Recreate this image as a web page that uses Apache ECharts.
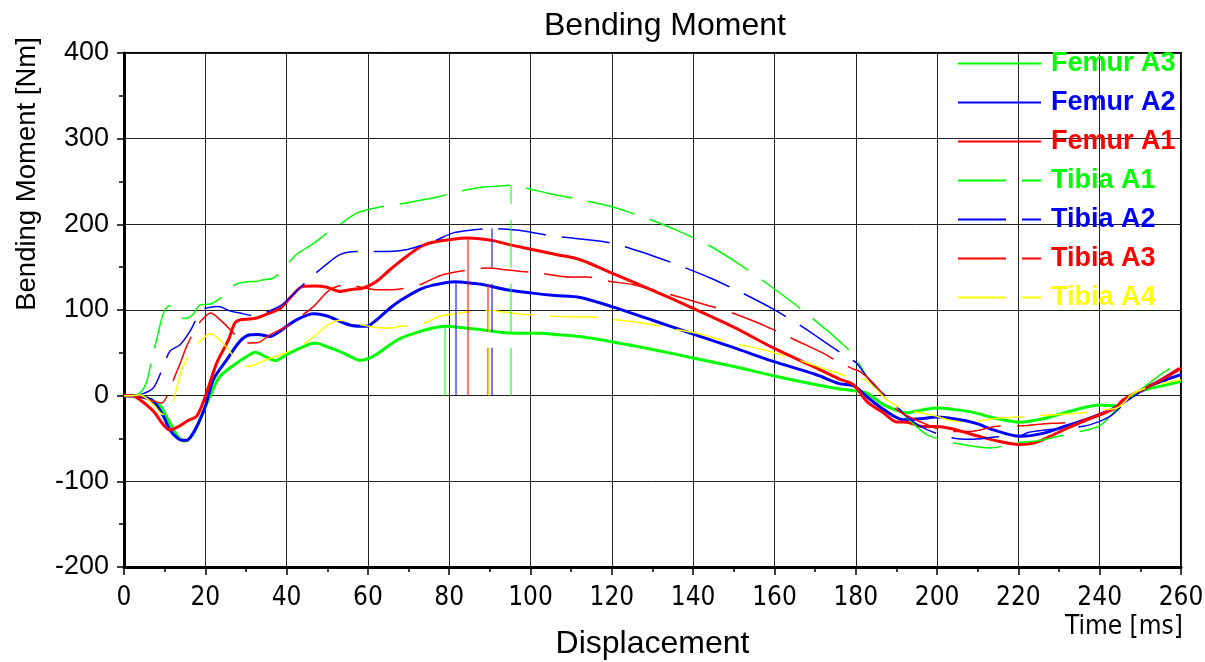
<!DOCTYPE html>
<html><head><meta charset="utf-8">
<script src="https://cdn.jsdelivr.net/npm/echarts@6/dist/echarts.min.js"></script>
<style>html,body{margin:0;padding:0;background:#fff}#c{width:1205px;height:662px}</style>
</head><body><div id="c"></div>
<script>
// ---------- DATA ----------
const seriesNames = ['Femur A3', 'Femur A2', 'Femur A1', 'Tibia A1', 'Tibia A2', 'Tibia A3', 'Tibia A4'];
const seriesColors = ['#00ff00', '#0000ff', '#ff0000', '#00ff00', '#0000ff', '#ff0000', '#ffff00'];
const xTickValues = [0, 20, 40, 60, 80, 100, 120, 140, 160, 180, 200, 220, 240, 260];
const yTickValues = [-200, -100, 0, 100, 200, 300, 400];

const femurA3_t = [0,3,5,7,9,11.3,13.3,15,17,18.7,21.2,23.6,27.7,31,32.2,35,37.1,40,44,47,50,53,56,58,60.5,63,65.4,68,72.8,76,79,84,88,92.5,97,102.3,107,112,120,130,140,150,159.7,170,176,179.4,182.7,186.8,190,192.5,196.6,200,204,208.9,214,220.4,226,232,236,240,244,246,249,252,256,260];
const femurA3_v = [0,0,-2,-5,-12.5,-32,-48,-53,-45,-28,0,22.5,38,48,50.6,45,41,48,57,61.5,57,51.7,45,41,44,51,59.5,67,75,79,81,79,77,74,73,73,71,69,63,54,44,34,23.3,13,7.8,6,3,-10.5,-17,-20,-16.5,-14.4,-16,-19.5,-26,-31,-27,-19,-14,-11,-12,-6,3,8,12,17];

const femurA2_t = [0,4,7.2,9.7,11.3,13,14.2,15.5,17,18.5,20,22,25.3,28.5,31,33,35.9,38,40,43,46.6,50,53.1,56,59.7,62,65.4,68,72.8,76,81.6,84,88.4,94.1,100,106,112.2,120,130,140,150,159.7,170,176,179.4,182.7,186.8,191.7,196,200,206.5,210,213.9,220.4,226,231.9,236,240,243.8,248.3,252,256,260];
const femurA2_v = [0,-1,-6.6,-24,-40,-49,-52,-52,-43.6,-30,-12.5,18.7,42,63.4,71,71.5,69,74,81,90,95.7,93,86.8,82,81,88,102,111,124,129,133,132,129.6,123.7,120,117,114.7,104,88,72,56,40,25,14,11.7,-1,-16,-28,-27,-25,-28.8,-33,-40,-47.5,-44,-35,-29,-22,-14,0,11,18,24.5];

const femurA1_t = [0,2,3.9,7.2,9.7,11.3,13.4,15.8,17.9,20,22.8,25.7,27.3,29,31,32.6,35,38.4,41,44.1,47,49.9,53.1,56,58.9,62,65.4,68,72.8,76,80,84.5,88,90.8,95,100.7,106,112.2,120,130,140,150,159.7,170,176,179.4,182.7,186.8,190,192.5,196.6,200,204.8,211.4,216,220.4,224,227.8,232,236,240,243.8,245.8,250,255,260];
const femurA1_v = [0,0,-4.7,-18,-34,-40,-36,-29,-24,-1,38,65,85,89,89.5,90.7,95,102,115,127.6,128,126.5,121.7,124,125.7,133,147,157,173.6,179,182,184,183,181,176,170.4,165,158.7,143,123,102,80,55.7,33,19.4,12.8,-6.6,-20,-30.7,-31,-36,-36,-40,-49,-54,-57,-55,-47.5,-38,-30,-22,-14.4,-4.7,6,18,32];

const tibiaA1_t = [0,2,3.9,5.5,6.8,8,9.7,11.1,12.5,13.4,15,16.9,18.7,21.2,24,27.3,29,31.4,32.6,34,36.7,39,42,44,46.4,50,54,57.2,60,61.7,65,67.9,72.8,77.7,82,88.4,93.3,95.1,97.4,100,104.8,112.2,120.4,128,136,144,151.5,159,166.3,173,176,179.4,182.7,186.8,190.9,194,197.5,203,208.9,213,217,220.4,224.5,229.4,235,240,244.2,247,249,252,256,260];
const tibiaA1_v = [0,0,3,15,42,65,96.5,105,101,92.6,90,94.6,106,107,115,129.6,132,133.4,133.4,135,137.4,147,163,170,177,190,203,213,217,219,222,223.7,228,232.6,238,243.6,245,246,244,241,235.8,228.8,220,208,193,175,153,128,102,76,63.4,48,22.5,-1,-18,-32,-45.5,-54,-59,-61,-58,-54.5,-53,-48,-42,-35,-16,-5,3,14,28,40];

const tibiaA2_t = [0,2,3.9,7.2,9.5,11.3,13.8,16.2,19.1,21,23.2,26,28.5,31.4,34.7,38.8,42,45,49.4,53.1,57.2,61,65,69.5,72.8,77,81,85.1,90.5,97,101.1,106,112.2,120,128.6,136,144.2,152,159.7,167,174.5,179,180.2,184.3,188.4,193.4,197.5,203.6,208.1,214.7,220.4,222.6,229,236,240,242.6,245,248,252,256,260];
const tibiaA2_v = [0,0,1,9,32,52,59.5,75,100,103,104,99,96.5,93.7,97,106,120,134,151.7,164.6,168.4,168.4,168.4,170.4,175,182,190,193,195,193,190,186,183,178,165.7,153,137.4,120,101,80,55.7,42,38,12.8,-4.7,-28,-39.7,-49,-51,-48,-46.7,-42.8,-39,-35.8,-30,-24,-14,-2,10,22,33];

const tibiaA3_t = [0,3,5,7.2,9.3,10.9,12.5,14,15.4,17.9,19.5,21.3,23.6,26.9,28.5,31,33,35.9,40,43,46.6,50.7,54.8,58,62.2,66.2,67.9,72.8,77.7,82.2,89.5,93.7,97.8,102.3,109.7,113.8,120,125.3,133,140.9,145,150,156.5,160.6,166,171.6,175.3,179.4,181,184.3,190,196.6,203.2,208.1,214.7,221.2,226,232.7,237,240.8,245,248,252,256,260];
const tibiaA3_v = [0,0,-2,-6.6,-8.5,3,22.5,40,57.5,81,90,96.5,88.7,73,63.4,61.5,62,71,81,91,104,123.7,129.6,127,123.7,123.7,124.5,129.6,140,145,149,147,145,143,138.5,138.5,133,129.6,120,109,103.5,96,84,75,63,50.5,40.8,31,28.4,14.8,-16,-32,-41.7,-41.7,-35.8,-35,-33,-31,-27,-22,-10,0,10,22,34];

const tibiaA4_t = [0,2,3.9,7.2,9.7,11.1,12.5,14.2,15.8,17.2,19,21.2,23.6,25.5,27.7,30.6,33,35.5,39.2,42,46.2,50.3,53.1,56,58,61.7,65.9,68,72.8,77.7,81.4,85,89.6,93.3,97.4,102.3,109.7,113.8,120,125.7,129.8,135,141.3,145.4,150,157.3,161.4,167,172.4,176.6,179.4,181.9,184.3,187.6,191.7,195.8,199,203.2,207.3,212,215.5,220.4,224.1,230,236,240,244.2,246,248,252,256,260];
const tibiaA4_v = [0,0,1,-10.5,-22,-18,1,30,46,55.7,65,72.4,65,55,42,34,38,42.8,49,55,67,82.9,88,86,83,80,79,81,83,92.6,95.7,98,99.6,97.7,95.4,94,92,92,89,86,83,78,72.4,67,61,53.7,47.9,40,31,24.5,18.7,19.4,11,-4.7,-16,-20,-23,-28.8,-31,-28,-26,-25,-23.3,-22,-20,-17,-14.4,-8,2,10,15,18.7];

const seriesTimes = [femurA3_t, femurA2_t, femurA1_t, tibiaA1_t, tibiaA2_t, tibiaA3_t, tibiaA4_t];
const seriesValues = [femurA3_v, femurA2_v, femurA1_v, tibiaA1_v, tibiaA2_v, tibiaA3_v, tibiaA4_v];

// ---------- CHART ----------
const DASH = [48, 16];
const NARROW = '"DejaVu Sans Condensed", "Liberation Sans Narrow", "Liberation Sans", Arial';
const chart = echarts.init(document.getElementById('c'), null, {renderer: 'canvas'});

const series = seriesNames.map((name, i) => {
  const t = seriesTimes[i], v = seriesValues[i];
  const data = t.map((x, k) => [x, v[k]]);
  let pk = 0;
  v.forEach((y, k) => { if (y > v[pk]) pk = k; });
  const isFemur = name.indexOf('Femur') === 0;
  return {
    name: name,
    type: 'line',
    data: data,
    smooth: 0.3,
    symbol: 'none',
    showSymbol: false,
    animation: false,
    color: seriesColors[i],
    lineStyle: {color: seriesColors[i], width: isFemur ? 3 : 1.5, type: isFemur ? 'solid' : DASH},
    markLine: {
      silent: true, symbol: 'none', animation: false, label: {show: false},
      lineStyle: {color: seriesColors[i], width: 1.5, opacity: 0.7, type: isFemur ? 'solid' : DASH},
      data: [[{coord: [t[pk], 0]}, {coord: [t[pk], v[pk]]}]]
    }
  };
});

const option = {
  backgroundColor: '#fff',
  animation: false,
  title: {
    text: 'Bending Moment', left: 539, top: 5,
    textStyle: {fontFamily: 'Liberation Sans, Arial', fontSize: 32, fontWeight: 'normal', color: '#000'}
  },
  grid: {left: 124, right: 24, top: 53, bottom: 95, show: true, borderColor: '#000', borderWidth: 2,
    backgroundColor: 'transparent', containLabel: false, outerBoundsMode: 'none'},
  legend: {
    orient: 'vertical', left: 952, top: 45, itemWidth: 83, itemHeight: 14, itemGap: 12,
    itemStyle: {opacity: 0},
    textStyle: {fontFamily: 'Liberation Sans, Arial', fontSize: 27, fontWeight: 'bold', padding: [0, 0, 0, 5]},
    data: seriesNames.map((n, i) => ({name: n, textStyle: {color: seriesColors[i]}}))
  },
  xAxis: {
    type: 'value', min: 0, max: 260, interval: 20,
    name: 'Displacement', nameLocation: 'middle', nameGap: 61,
    nameTextStyle: {fontFamily: 'Liberation Sans, Arial', fontSize: 32, color: '#000'},
    axisLine: {onZero: false, lineStyle: {color: '#000', width: 3}},
    axisTick: {length: 8, lineStyle: {color: '#000', width: 1.5}},
    minorTick: {show: true, splitNumber: 2, length: 5, lineStyle: {color: '#000', width: 1.5}},
    axisLabel: {fontFamily: NARROW, fontSize: 26, color: '#000', margin: 18, customValues: xTickValues},
    splitLine: {show: true, lineStyle: {color: '#222', width: 1}}
  },
  yAxis: {
    type: 'value', min: -200, max: 400, interval: 100,
    axisLine: {onZero: false, lineStyle: {color: '#000', width: 3}},
    axisTick: {length: 7, lineStyle: {color: '#000', width: 1.5}},
    minorTick: {show: true, splitNumber: 2, length: 5, lineStyle: {color: '#000', width: 1.5}},
    axisLabel: {fontFamily: 'Liberation Sans, Arial', fontSize: 27, color: '#000', margin: 15, customValues: yTickValues},
    splitLine: {show: true, lineStyle: {color: '#222', width: 1}}
  },
  graphic: [
    {type: 'text', left: 1065, top: 614, style: {text: 'Time [ms]', font: '26px ' + NARROW, fill: '#000'}},
    {type: 'text', x: 27, y: 174, rotation: Math.PI / 2,
      style: {text: 'Bending Moment [Nm]', font: '27.5px "Liberation Sans", Arial', fill: '#000', textAlign: 'center', textVerticalAlign: 'middle'}}
  ],
  series: series
};
chart.setOption(option);
</script></body></html>
